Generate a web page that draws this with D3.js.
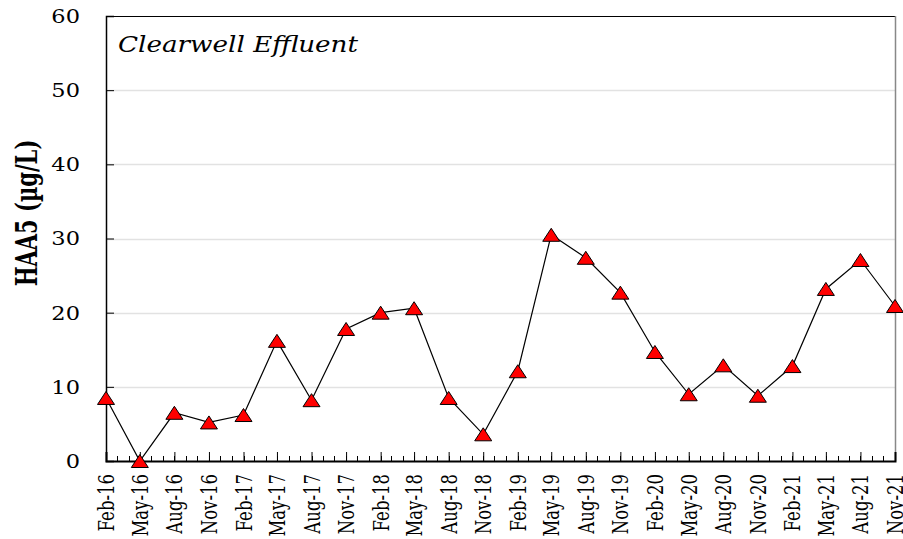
<!DOCTYPE html>
<html><head><meta charset="utf-8">
<script src="https://cdn.jsdelivr.net/npm/d3@7/dist/d3.min.js"></script>
<style>body{margin:0;background:#fff}svg{display:block}</style>
</head><body><svg id="c" width="903" height="539"></svg>
<script>
const categories = ["Feb-16","May-16","Aug-16","Nov-16","Feb-17","May-17","Aug-17","Nov-17","Feb-18","May-18","Aug-18","Nov-18","Feb-19","May-19","Aug-19","Nov-19","Feb-20","May-20","Aug-20","Nov-20","Feb-21","May-21","Aug-21","Nov-21"];
const haa5 = [8.5,0.0,6.5,5.2,6.2,16.2,8.2,17.8,20.0,20.6,8.5,3.6,12.1,30.5,27.4,22.7,14.7,9.0,12.9,8.8,12.8,23.2,27.1,20.9];
const yTicks = [0,10,20,30,40,50,60];
const title = "Clearwell Effluent";
const yTitle = "HAA5 (µg/L)";

const svg = d3.select("#c");
const L=106, R=895, T=16, B=461;
const parse = d3.timeParse("%b-%y");
const dates = categories.map(parse);
const x = d3.scaleTime().domain([dates[0], dates[dates.length-1]]).range([L,R]);
const y = d3.scaleLinear().domain([0,60]).range([B,T]);

// gridlines
svg.append("g").selectAll("line").data(yTicks.filter(d=>d>0&&d<60)).join("line")
  .attr("x1",L).attr("x2",R).attr("y1",d=>Math.round(y(d))+0.5).attr("y2",d=>Math.round(y(d))+0.5)
  .attr("stroke","#e2e2e2").attr("stroke-width",1.3);

// border top and right
svg.append("line").attr("x1",L).attr("x2",R).attr("y1",T+0.5).attr("y2",T+0.5).attr("stroke","#000").attr("stroke-width",1.2);
svg.append("line").attr("x1",R+0.5).attr("x2",R+0.5).attr("y1",T).attr("y2",B).attr("stroke","#888").attr("stroke-width",1.5);

// y axis
const yAxis = d3.axisLeft(y).tickValues(yTicks).tickSize(-8).tickFormat(d3.format("d"));
const gy = svg.append("g").attr("transform",`translate(${L},0)`).call(yAxis);
gy.select(".domain").attr("stroke","#000").attr("stroke-width",1.5);
gy.selectAll(".tick line").attr("stroke","#000");
gy.selectAll("text").attr("font-family","DejaVu Serif").attr("font-size",18).attr("fill","#000")
  .attr("x",0).attr("dy","0.36em").attr("text-anchor","end")
  .attr("transform",`translate(${80-L},0) scale(1.25,1)`);

// x axis minor ticks
const months = d3.timeMonth.range(dates[0], d3.timeMonth.offset(dates[dates.length-1],1));
svg.append("g").selectAll("line").data(months).join("line")
  .attr("x1",d=>Math.round(x(d))+0.5).attr("x2",d=>Math.round(x(d))+0.5)
  .attr("y1",B).attr("y2",B-5).attr("stroke","#000");
const xAxis = d3.axisBottom(x).tickValues(dates).tickSize(-9).tickFormat(d3.timeFormat("%b-%y"));
const gx = svg.append("g").attr("transform",`translate(0,${B})`).call(xAxis);
gx.select(".domain").attr("stroke","#000").attr("stroke-width",2);
gx.selectAll(".tick line").attr("stroke","#000");
gx.selectAll("text").attr("font-family","DejaVu Serif").attr("font-size",16.5).attr("fill","#000")
  .attr("x",0).attr("y",0).attr("dy","0.35em").attr("text-anchor","end")
  .attr("transform","translate(0,13) scale(1.3,1) rotate(-90)");

// line
svg.append("path").datum(haa5).attr("fill","none").attr("stroke","#000").attr("stroke-width",1.2)
  .attr("d", d3.line().x((d,i)=>x(dates[i])).y(d=>y(d)));
// markers (bounding-box centred triangles)
const tri = "M0,-6.5L8.5,6.5L-8.5,6.5Z";
svg.append("g").selectAll("path").data(haa5).join("path")
  .attr("d", tri)
  .attr("transform",(d,i)=>`translate(${x(dates[i])},${y(d)})`)
  .attr("fill","#ff0000").attr("stroke","#000").attr("stroke-width",1);

// titles
svg.append("text").attr("transform","translate(118,52) scale(1.14,1)").attr("font-family","DejaVu Serif").attr("font-style","italic")
  .attr("font-size",23).attr("fill","#000").text(title);
svg.append("text").attr("transform","translate(26,213) scale(1.4,1) rotate(-90)").attr("text-anchor","middle")
  .attr("dy","0.36em")
  .attr("font-family","DejaVu Serif").attr("font-weight","bold").attr("font-size",21).attr("fill","#000").text(yTitle);
</script></body></html>
